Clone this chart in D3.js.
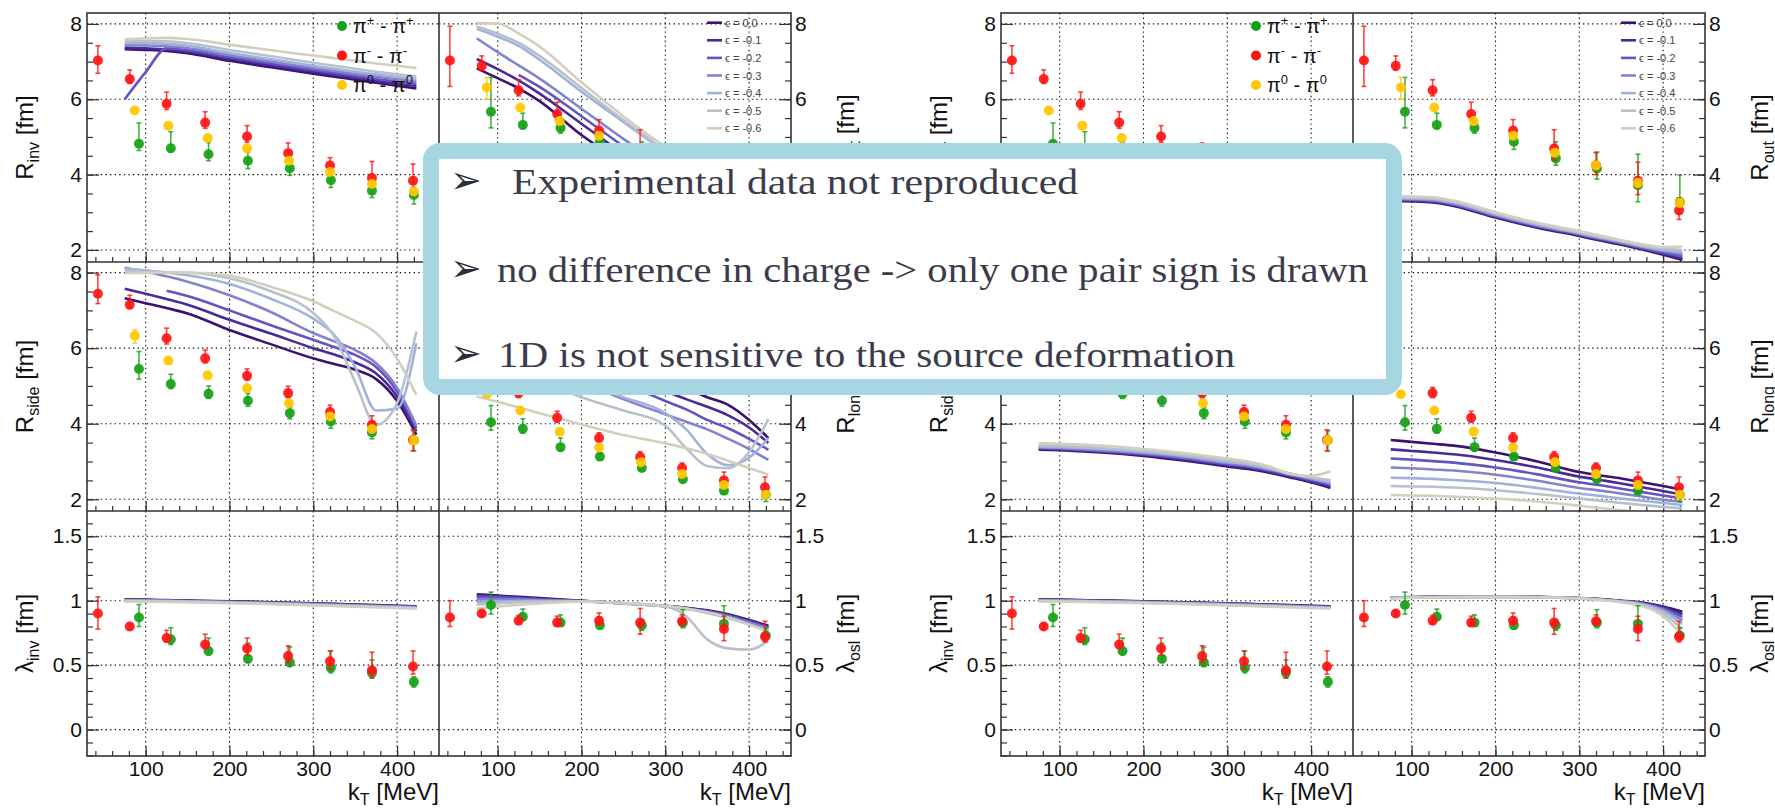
<!DOCTYPE html>
<html>
<head>
<meta charset="utf-8">
<title>HBT radii vs kT</title>
<script src="https://d3js.org/d3.v7.min.js"></script>
<style>
  body { margin: 0; background: #fff; }
  svg text { font-family: "Liberation Sans", Arial, sans-serif; fill: #111; }
  .tick text { font-size: 21px; }
  .tick line { stroke: #333; stroke-width: 1.2; }
</style>
</head>
<body>
<script>
// ---- kT positions of the measured points (MeV)
var ktRed    = [43, 81, 125, 171, 221, 270, 320, 370, 419];
var ktGreen  = [92, 130, 175, 222, 272, 321, 370, 420];
var ktYellow = [87, 127, 174, 221, 271, 320, 370, 420];
// kT grid of the model curves
var ktModel  = [75, 100, 125, 150, 200, 250, 300, 325, 350, 375, 400, 423];

var epsLabels = ["0.0", "-0.1", "-0.2", "-0.3", "-0.4", "-0.5", "-0.6"];
var epsColors = ["#3b1270", "#4a2a98", "#6453c0", "#8283cd", "#a2b1dc", "#b5c2cc", "#d3cfbe"];
var pionLabels = [["+", "+"], ["-", "-"], ["0", "0"]];
var pionColors = ["#16a016", "#ff1414", "#ffc800"];

// ---- measured values, errors as [low, high]
var rinvRed = [7.03, 6.54, 5.88, 5.38, 5.01, 4.57, 4.24, 3.91, 3.84];
var rinvRedErr = [[0.34,0.39],[0.12,0.24],[0.15,0.31],[0.15,0.29],[0.15,0.29],[0.15,0.27],[0.15,0.21],[0.15,0.44],[0.2,0.44]];
var rinvGreen = [4.82, 4.70, 4.54, 4.37, 4.17, 3.85, 3.57, 3.46];
var rinvGreenErr = [[0.18,0.55],[0.1,0.44],[0.17,0.31],[0.21,0.23],[0.19,0.2],[0.19,0.2],[0.18,0.2],[0.24,0.2]];
var rinvYellow = [5.70, 5.30, 4.97, 4.70, 4.37, 4.07, 3.75, 3.55];
var rinvYellowErr = [[0.06,0.06],[0.06,0.06],[0.06,0.06],[0.06,0.06],[0.06,0.06],[0.06,0.06],[0.06,0.06],[0.06,0.06]];

var routRed = [7.03, 6.89, 6.24, 5.61, 5.17, 4.69, 4.25, 3.84, 3.05];
var routRedErr = [[0.69,0.91],[0.12,0.26],[0.15,0.28],[0.15,0.31],[0.15,0.29],[0.3,0.5],[0.25,0.33],[0.37,0.49],[0.24,0.33]];
var routGreen = [5.67, 5.32, 5.24, 4.87, 4.43, 4.16, 3.72, 3.27];
var routGreenErr = [[0.43,0.91],[0.1,0.31],[0.14,0.15],[0.2,0.2],[0.18,0.44],[0.28,0.44],[0.44,0.82],[0.3,0.72]];
var routYellow = [6.31, 5.78, 5.42, 5.03, 4.58, 4.24, 3.78, 3.25];
var routYellowErr = [[0.31,0.27],[0.08,0.08],[0.08,0.08],[0.08,0.08],[0.08,0.08],[0.1,0.1],[0.1,0.1],[0.1,0.1]];

var rsideRed = [7.44, 7.15, 6.26, 5.73, 5.27, 4.81, 4.31, 3.97, 3.57];
var rsideRedErr = [[0.26,0.5],[0.1,0.25],[0.15,0.27],[0.12,0.22],[0.12,0.18],[0.12,0.18],[0.12,0.18],[0.2,0.24],[0.29,0.27]];
var rsideGreen = [5.45, 5.05, 4.79, 4.61, 4.28, 4.06, 3.77, 3.56];
var rsideGreenErr = [[0.27,0.46],[0.12,0.26],[0.12,0.21],[0.15,0.19],[0.15,0.15],[0.18,0.15],[0.17,0.15],[0.28,0.25]];
var rsideYellow = [6.33, 5.67, 5.28, 4.94, 4.54, 4.19, 3.86, 3.56];
var rsideYellowErr = [[0.2,0.16],[0.06,0.06],[0.06,0.06],[0.06,0.06],[0.06,0.06],[0.06,0.06],[0.08,0.08],[0.1,0.1]];

var rlongRed = [6.3, 5.6, 4.81, 4.16, 3.62, 3.12, 2.83, 2.5, 2.32];
var rlongRedErr = [[0.5,0.6],[0.2,0.2],[0.12,0.15],[0.12,0.17],[0.1,0.14],[0.1,0.14],[0.1,0.13],[0.12,0.22],[0.15,0.27]];
var rlongGreen = [4.04, 3.87, 3.38, 3.13, 2.83, 2.53, 2.23, 2.12];
var rlongGreenErr = [[0.21,0.44],[0.12,0.26],[0.1,0.24],[0.08,0.08],[0.08,0.08],[0.08,0.08],[0.1,0.08],[0.18,0.12]];
var rlongYellow = [4.78, 4.35, 3.79, 3.37, 2.98, 2.67, 2.38, 2.12];
var rlongYellowErr = [[0.06,0.06],[0.06,0.06],[0.06,0.06],[0.06,0.06],[0.06,0.06],[0.06,0.06],[0.06,0.06],[0.06,0.06]];

var laminvRed = [0.90, 0.80, 0.71, 0.66, 0.63, 0.57, 0.53, 0.46, 0.49];
var laminvRedErr = [[0.12,0.13],[0.02,0.02],[0.03,0.06],[0.03,0.08],[0.05,0.08],[0.05,0.08],[0.06,0.08],[0.06,0.14],[0.06,0.12]];
var laminvGreen = [0.87, 0.70, 0.61, 0.55, 0.52, 0.48, 0.44, 0.37];
var laminvGreenErr = [[0.07,0.1],[0.04,0.09],[0.03,0.1],[0.03,0.12],[0.03,0.12],[0.04,0.13],[0.04,0.1],[0.04,0.04]];

var lamoslRed = [0.87, 0.90, 0.845, 0.83, 0.845, 0.83, 0.84, 0.78, 0.72];
var lamoslRedErr = [[0.07,0.13],[0.02,0.02],[0.02,0.04],[0.02,0.05],[0.03,0.06],[0.09,0.11],[0.03,0.05],[0.09,0.1],[0.04,0.12]];
var lamoslGreen = [0.967, 0.875, 0.83, 0.81, 0.81, 0.83, 0.82, 0.73];
var lamoslGreenErr = [[0.07,0.1],[0.02,0.06],[0.02,0.06],[0.03,0.06],[0.04,0.04],[0.04,0.1],[0.05,0.14],[0.03,0.06]];

// ---- model curves, one row per epsilon (0.0 ... -0.6), on ktModel
var rinvModel = [
  [7.33, 7.31, 7.28, 7.22, 7.02, 6.85, 6.68, 6.6, 6.52, 6.44, 6.36, 6.29],
  [7.37, 7.35, 7.32, 7.26, 7.07, 6.9, 6.73, 6.65, 6.57, 6.49, 6.41, 6.35],
  [6.0, 6.72, 7.35, 7.3, 7.12, 6.95, 6.78, 6.7, 6.62, 6.54, 6.47, 6.41],
  [7.44, 7.43, 7.41, 7.36, 7.17, 7.0, 6.83, 6.75, 6.67, 6.6, 6.53, 6.47],
  [7.49, 7.49, 7.47, 7.42, 7.23, 7.06, 6.89, 6.81, 6.73, 6.66, 6.59, 6.53],
  [7.54, 7.55, 7.54, 7.49, 7.31, 7.14, 6.97, 6.89, 6.81, 6.73, 6.66, 6.6],
  [7.59, 7.62, 7.63, 7.6, 7.45, 7.3, 7.16, 7.09, 7.02, 6.95, 6.89, 6.83]
];
var routModelA = [
  [6.82, 6.56, 6.29, 5.95, 5.05, 4.3, 3.6, 3.3, 3.0, 2.72, 2.46, 2.2],
  [7.07, 6.8, 6.5, 6.15, 5.35, 4.55, 3.8, 3.47, 3.15, 2.86, 2.58, 2.32],
  [null, null, 6.65, 6.33, 5.55, 4.75, 3.98, 3.63, 3.3, 3.0, 2.72, 2.45],
  [7.62, 7.25, 6.9, 6.55, 5.75, 4.95, 4.2, 3.85, 3.5, 3.18, 2.88, 2.6],
  [7.87, 7.66, 7.42, 7.05, 6.2, 5.4, 4.6, 4.22, 3.85, 3.5, 3.17, 2.86],
  [7.93, 7.74, 7.5, 7.15, 6.3, 5.45, 4.65, 4.3, 3.95, 3.62, 3.3, 3.0],
  [8.02, 8.01, 7.75, 7.4, 6.45, 5.55, 4.75, 4.45, 4.12, 3.8, 3.5, 3.2]
];
var rsideModelA = [
  [7.32, 7.19, 7.06, 6.92, 6.48, 6.1, 5.73, 5.58, 5.43, 5.18, 4.6, 3.71],
  [7.57, 7.44, 7.3, 7.15, 6.75, 6.38, 6.0, 5.83, 5.62, 5.33, 4.72, 3.8],
  [null, null, 7.52, 7.38, 7.0, 6.6, 6.22, 6.03, 5.82, 5.5, 4.85, 3.88],
  [8.13, 8.02, 7.9, 7.76, 7.4, 6.95, 6.4, 6.18, 5.95, 5.6, 4.95, 3.95],
  [8.1, 8.06, 8.0, 7.93, 7.7, 7.3, 6.78, 6.35, 5.5, 4.35, 4.4, 6.13],
  [8.05, 8.03, 8.01, 8.0, 7.85, 7.5, 6.93, 6.31, 5.1, 3.97, 4.55, 6.44],
  [7.99, 7.99, 8.0, 8.0, 7.92, 7.62, 7.24, 6.98, 6.72, 6.4, 5.72, 4.76]
];
var rlongModelA = [
  [8.4, 8.0, 7.6, 7.2, 6.5, 5.85, 5.2, 4.95, 4.7, 4.5, 4.1, 3.62],
  [8.0, 7.6, 7.2, 6.8, 6.1, 5.5, 4.87, 4.65, 4.45, 4.22, 3.9, 3.49],
  [7.6, 7.2, 6.8, 6.4, 5.7, 5.1, 4.6, 4.38, 4.1, 3.88, 3.6, 3.31],
  [7.2, 6.8, 6.4, 6.0, 5.15, 4.65, 4.25, 4.05, 3.85, 3.6, 3.33, 3.04],
  [6.4, 6.1, 5.8, 5.55, 5.1, 4.7, 4.28, 3.85, 3.2, 2.9, 3.1, 3.62],
  [6.0, 5.7, 5.4, 5.15, 4.7, 4.35, 3.95, 3.35, 2.88, 2.82, 3.25, 4.12],
  [4.72, 4.58, 4.43, 4.28, 3.98, 3.7, 3.48, 3.35, 3.2, 3.02, 2.83, 2.65]
];
var laminvModel = [
  [1.01, 1.008, 1.005, 1.002, 0.995, 0.988, 0.98, 0.976, 0.971, 0.966, 0.961, 0.956],
  [1.008, 1.006, 1.003, 1.0, 0.993, 0.986, 0.978, 0.974, 0.969, 0.964, 0.959, 0.954],
  [1.006, 1.004, 1.001, 0.998, 0.991, 0.984, 0.976, 0.971, 0.966, 0.961, 0.956, 0.951],
  [1.004, 1.002, 0.999, 0.996, 0.989, 0.982, 0.973, 0.968, 0.963, 0.958, 0.953, 0.948],
  [1.001, 0.999, 0.997, 0.994, 0.987, 0.979, 0.97, 0.965, 0.96, 0.955, 0.95, 0.945],
  [0.998, 0.996, 0.994, 0.991, 0.984, 0.976, 0.967, 0.962, 0.957, 0.952, 0.946, 0.942],
  [0.995, 0.993, 0.991, 0.988, 0.981, 0.973, 0.964, 0.959, 0.954, 0.949, 0.944, 0.939]
];
var lamoslModelA = [
  [1.05, 1.04, 1.03, 1.02, 1.0, 0.98, 0.96, 0.945, 0.925, 0.895, 0.85, 0.805],
  [1.04, 1.034, 1.025, 1.015, 0.999, 0.98, 0.959, 0.943, 0.921, 0.89, 0.844, 0.798],
  [1.03, 1.026, 1.019, 1.01, 0.998, 0.979, 0.958, 0.941, 0.917, 0.884, 0.838, 0.79],
  [1.01, 1.01, 1.008, 1.004, 0.996, 0.979, 0.956, 0.938, 0.913, 0.878, 0.83, 0.782],
  [0.99, 0.994, 0.997, 0.998, 0.995, 0.978, 0.955, 0.935, 0.905, 0.865, 0.815, 0.772],
  [0.97, 0.98, 0.988, 0.993, 0.995, 0.978, 0.955, 0.88, 0.7, 0.63, 0.62, 0.69],
  [0.94, 0.955, 0.968, 0.978, 0.992, 0.984, 0.96, 0.94, 0.91, 0.87, 0.815, 0.76]
];
var routModelB = [
  [3.3, 3.29, 3.26, 3.17, 2.86, 2.59, 2.37, 2.25, 2.14, 2.01, 1.87, 1.74],
  [3.32, 3.31, 3.28, 3.19, 2.88, 2.61, 2.39, 2.27, 2.16, 2.03, 1.9, 1.78],
  [3.34, 3.33, 3.3, 3.21, 2.9, 2.63, 2.41, 2.29, 2.18, 2.05, 1.93, 1.83],
  [3.36, 3.35, 3.32, 3.23, 2.92, 2.65, 2.43, 2.31, 2.2, 2.08, 1.97, 1.88],
  [3.38, 3.37, 3.35, 3.26, 2.95, 2.67, 2.45, 2.33, 2.22, 2.1, 2.0, 1.94],
  [3.4, 3.39, 3.37, 3.28, 2.97, 2.7, 2.47, 2.35, 2.24, 2.12, 2.04, 2.0],
  [3.43, 3.42, 3.4, 3.31, 3.0, 2.72, 2.5, 2.38, 2.26, 2.15, 2.08, 2.09]
];
var rsideModelB = [
  [3.31, 3.3, 3.27, 3.24, 3.15, 3.02, 2.87, 2.8, 2.7, 2.58, 2.45, 2.3],
  [3.33, 3.32, 3.29, 3.26, 3.17, 3.05, 2.9, 2.83, 2.73, 2.61, 2.48, 2.34],
  [3.35, 3.34, 3.31, 3.28, 3.2, 3.08, 2.93, 2.86, 2.76, 2.63, 2.51, 2.38],
  [3.37, 3.36, 3.33, 3.3, 3.22, 3.11, 2.96, 2.89, 2.79, 2.66, 2.54, 2.42],
  [3.39, 3.38, 3.36, 3.33, 3.25, 3.14, 2.99, 2.92, 2.81, 2.68, 2.56, 2.45],
  [3.42, 3.41, 3.39, 3.36, 3.28, 3.17, 3.03, 2.95, 2.83, 2.68, 2.58, 2.5],
  [3.48, 3.47, 3.45, 3.42, 3.33, 3.22, 3.08, 3.0, 2.87, 2.67, 2.62, 2.74]
];
var rlongModelB = [
  [3.57, 3.52, 3.47, 3.42, 3.24, 3.0, 2.72, 2.63, 2.55, 2.45, 2.35, 2.25],
  [3.32, 3.28, 3.24, 3.19, 3.04, 2.84, 2.6, 2.51, 2.42, 2.32, 2.22, 2.12],
  [3.08, 3.05, 3.01, 2.97, 2.84, 2.66, 2.45, 2.37, 2.28, 2.19, 2.1, 2.02],
  [2.84, 2.82, 2.79, 2.76, 2.65, 2.49, 2.3, 2.23, 2.15, 2.07, 1.99, 1.93],
  [2.57, 2.56, 2.54, 2.51, 2.43, 2.3, 2.15, 2.09, 2.02, 1.96, 1.9, 1.85],
  [2.35, 2.34, 2.33, 2.31, 2.24, 2.14, 2.02, 1.96, 1.9, 1.85, 1.8, 1.76],
  [2.11, 2.1, 2.09, 2.07, 2.02, 1.94, 1.83, 1.77, 1.71, 1.66, 1.61, 1.57]
];
var lamoslModelB = [
  [1.025, 1.028, 1.03, 1.031, 1.032, 1.03, 1.02, 1.012, 1.0, 0.985, 0.955, 0.915],
  [1.024, 1.027, 1.029, 1.03, 1.031, 1.029, 1.019, 1.011, 0.999, 0.982, 0.948, 0.895],
  [1.023, 1.026, 1.028, 1.03, 1.031, 1.029, 1.019, 1.01, 0.998, 0.979, 0.94, 0.875],
  [1.022, 1.025, 1.027, 1.029, 1.03, 1.028, 1.018, 1.009, 0.996, 0.976, 0.93, 0.85],
  [1.021, 1.024, 1.027, 1.029, 1.03, 1.028, 1.018, 1.008, 0.994, 0.972, 0.918, 0.82],
  [1.02, 1.023, 1.026, 1.028, 1.03, 1.027, 1.017, 1.007, 0.991, 0.966, 0.9, 0.78],
  [1.02, 1.023, 1.026, 1.028, 1.029, 1.027, 1.017, 1.006, 0.988, 0.958, 0.88, 0.73]
];

var notes = ["Experimental data not reproduced",
             "no difference in charge -> only one pair sign is drawn",
             "1D is not sensitive to the source deformation"];

// ---- layout
var W = 1775, H = 809;
var groupX = [0, 914], colX = [87, 439], colW = 352;
var rowY = [13, 262, 511], rowH = [249, 249, 245];
var yDomains = [[1.68, 8.29], [1.69, 8.28], [-0.205, 1.696]];
var yMajor = [[2, 4, 6, 8], [2, 4, 6, 8], [0, 0.5, 1, 1.5]];
var yMinor = [d3.range(2, 8.01, 0.5), d3.range(2, 8.01, 0.5), d3.range(-0.2, 1.65, 0.1)];
var xMajor = [100, 200, 300, 400], xMinor = d3.range(40, 441, 20);

var svg = d3.select("body").append("svg").attr("width", W).attr("height", H);
var defs = svg.append("defs");

function panelsFor(grp) {
  var B = grp === 1;
  return [
    {grp: grp, col: 0, row: 0, title: ["R", "inv"], red: rinvRed, redErr: rinvRedErr, green: rinvGreen, greenErr: rinvGreenErr, yellow: rinvYellow, yellowErr: rinvYellowErr, model: B ? null : rinvModel, pion: true},
    {grp: grp, col: 1, row: 0, title: ["R", "out"], red: routRed, redErr: routRedErr, green: routGreen, greenErr: routGreenErr, yellow: routYellow, yellowErr: routYellowErr, model: B ? routModelB : routModelA, eps: true},
    {grp: grp, col: 0, row: 1, title: ["R", "side"], red: rsideRed, redErr: rsideRedErr, green: rsideGreen, greenErr: rsideGreenErr, yellow: rsideYellow, yellowErr: rsideYellowErr, model: B ? rsideModelB : rsideModelA},
    {grp: grp, col: 1, row: 1, title: ["R", "long"], red: rlongRed, redErr: rlongRedErr, green: rlongGreen, greenErr: rlongGreenErr, yellow: rlongYellow, yellowErr: rlongYellowErr, model: B ? rlongModelB : rlongModelA},
    {grp: grp, col: 0, row: 2, title: ["\u03bb", "inv"], red: laminvRed, redErr: laminvRedErr, green: laminvGreen, greenErr: laminvGreenErr, model: laminvModel},
    {grp: grp, col: 1, row: 2, title: ["\u03bb", "osl"], red: lamoslRed, redErr: lamoslRedErr, green: lamoslGreen, greenErr: lamoslGreenErr, model: B ? lamoslModelB : lamoslModelA}
  ];
}

var clipN = 0;
function drawSeries(g, x, y, kts, vals, errs, color) {
  var pts = vals.map(function(v, i) { return {k: kts[i], v: v, lo: errs[i][0], hi: errs[i][1]}; });
  var eb = g.append("g").attr("stroke", color).attr("stroke-width", 1.6).attr("stroke-opacity", 0.8);
  eb.selectAll(null).data(pts).enter().append("line")
    .attr("x1", function(d) { return x(d.k); }).attr("x2", function(d) { return x(d.k); })
    .attr("y1", function(d) { return y(d.v - d.lo); }).attr("y2", function(d) { return y(d.v + d.hi); });
  ["lo", "hi"].forEach(function(s) {
    eb.selectAll(null).data(pts).enter().append("line")
      .attr("x1", function(d) { return x(d.k) - 2.5; }).attr("x2", function(d) { return x(d.k) + 2.5; })
      .attr("y1", function(d) { return y(s === "lo" ? d.v - d.lo : d.v + d.hi); })
      .attr("y2", function(d) { return y(s === "lo" ? d.v - d.lo : d.v + d.hi); });
  });
  g.selectAll(null).data(pts).enter().append("circle")
    .attr("cx", function(d) { return x(d.k); }).attr("cy", function(d) { return y(d.v); })
    .attr("r", 5).attr("fill", color).attr("fill-opacity", 0.92);
}

function drawPanel(p) {
  var x0 = groupX[p.grp] + colX[p.col], y0 = rowY[p.row], h = rowH[p.row];
  var x = d3.scaleLinear().domain([30, 450]).range([x0, x0 + colW]);
  var y = d3.scaleLinear().domain(yDomains[p.row]).range([y0 + h, y0]);
  var id = "clip" + (clipN++);
  defs.append("clipPath").attr("id", id).append("rect")
    .attr("x", x0).attr("y", y0).attr("width", colW).attr("height", h);

  var g = svg.append("g");
  // dotted grid
  var grid = g.append("g").attr("stroke", "#111").attr("stroke-width", 1.1).attr("stroke-dasharray", "1.4 3.2");
  grid.selectAll(null).data(xMajor).enter().append("line")
    .attr("x1", function(d) { return x(d); }).attr("x2", function(d) { return x(d); })
    .attr("y1", y0).attr("y2", y0 + h);
  grid.selectAll(null).data(yMajor[p.row]).enter().append("line")
    .attr("x1", x0).attr("x2", x0 + colW)
    .attr("y1", function(d) { return y(d); }).attr("y2", function(d) { return y(d); });

  // axes (ticks drawn inwards, ROOT style)
  var bottom = p.row === 2;
  g.append("g").attr("transform", "translate(0," + (y0 + h) + ")")
    .call(d3.axisBottom(x).tickValues(xMajor).tickSize(-10).tickPadding(5)
      .tickFormat(bottom ? d3.format("d") : ""))
    .call(function(a) { a.select(".domain").remove(); a.selectAll("text").attr("font-size", "21px"); });
  g.append("g").attr("transform", "translate(0," + (y0 + h) + ")")
    .call(d3.axisBottom(x).tickValues(xMinor).tickSize(-5).tickFormat(""))
    .call(function(a) { a.select(".domain").remove(); });

  var yfmt = function(d) { return d3.format("~g")(d); };
  if (p.col === 0) {
    g.append("g").attr("transform", "translate(" + x0 + ",0)")
      .call(d3.axisLeft(y).tickValues(yMajor[p.row]).tickSize(-12).tickPadding(5).tickFormat(yfmt))
      .call(function(a) { a.select(".domain").remove(); });
    g.append("g").attr("transform", "translate(" + x0 + ",0)")
      .call(d3.axisLeft(y).tickValues(yMinor[p.row]).tickSize(-6).tickFormat(""))
      .call(function(a) { a.select(".domain").remove(); });
  } else {
    g.append("g").attr("transform", "translate(" + (x0 + colW) + ",0)")
      .call(d3.axisRight(y).tickValues(yMajor[p.row]).tickSize(-12).tickPadding(4).tickFormat(yfmt))
      .call(function(a) { a.select(".domain").remove(); });
    g.append("g").attr("transform", "translate(" + (x0 + colW) + ",0)")
      .call(d3.axisRight(y).tickValues(yMinor[p.row]).tickSize(-6).tickFormat(""))
      .call(function(a) { a.select(".domain").remove(); });
  }

  // y title
  var tx = p.col === 0 ? x0 - 62 : x0 + colW + 55, ty = y0 + h / 2;
  var t = g.append("text").attr("transform", "translate(" + tx + "," + ty + ") rotate(-90)")
    .attr("text-anchor", "middle").attr("dy", "0.35em").attr("font-size", "24px");
  t.append("tspan").text(p.title[0]);
  t.append("tspan").attr("font-size", "16px").attr("dy", 6).text(p.title[1]);
  t.append("tspan").attr("dy", -6).text(" [fm]");

  if (bottom) {
    var kt = g.append("text").attr("x", x0 + colW).attr("y", 800)
      .attr("text-anchor", "end").attr("font-size", "24px");
    kt.append("tspan").text("k");
    kt.append("tspan").attr("font-size", "16px").attr("dy", 5).text("T");
    kt.append("tspan").attr("dy", -5).text(" [MeV]");
  }

  var inner = g.append("g").attr("clip-path", "url(#" + id + ")");
  // model curves
  if (p.model) {
    var line = d3.line()
      .defined(function(d) { return d[1] != null; })
      .x(function(d) { return x(d[0]); }).y(function(d) { return y(d[1]); })
      .curve(d3.curveMonotoneX);
    p.model.forEach(function(vals, i) {
      inner.append("path").datum(ktModel.map(function(k, j) { return [k, vals[j]]; }))
        .attr("d", line).attr("fill", "none")
        .attr("stroke", epsColors[i]).attr("stroke-width", 2.6);
    });
  }
  // data points
  drawSeries(inner, x, y, ktGreen, p.green, p.greenErr, pionColors[0]);
  drawSeries(inner, x, y, ktRed, p.red, p.redErr, pionColors[1]);
  if (p.yellow) drawSeries(inner, x, y, ktYellow, p.yellow, p.yellowErr, pionColors[2]);

  // legends
  if (p.pion) {
    pionLabels.forEach(function(lb, i) {
      var yy = y0 + 13 + i * 29.5;
      g.append("circle").attr("cx", x0 + 255).attr("cy", yy).attr("r", 5).attr("fill", pionColors[i]);
      var lt = g.append("text").attr("x", x0 + 266).attr("y", yy + 7).attr("font-size", "20px");
      lt.append("tspan").text("\u03c0");
      lt.append("tspan").attr("font-size", "13px").attr("dy", -8).text(lb[0]);
      lt.append("tspan").attr("dy", 8).text(" - \u03c0");
      lt.append("tspan").attr("font-size", "13px").attr("dy", -8).text(lb[1]);
    });
  }
  if (p.eps) {
    epsLabels.forEach(function(lb, i) {
      var yy = y0 + 9.7 + i * 17.6;
      g.append("line").attr("x1", x0 + 268).attr("x2", x0 + 283).attr("y1", yy).attr("y2", yy)
        .attr("stroke", epsColors[i]).attr("stroke-width", 2.6);
      g.append("text").attr("x", x0 + 286).attr("y", yy + 4).attr("font-size", "11px")
        .style("fill", "#444").text("\u03f5 = " + lb);
    });
  }
}

[0, 1].forEach(function(grp) {
  panelsFor(grp).forEach(drawPanel);
  // frame
  var gx = groupX[grp];
  var fr = svg.append("g").attr("stroke", "#333").attr("stroke-width", 1.6).attr("fill", "none");
  fr.append("rect").attr("x", gx + colX[0]).attr("y", rowY[0])
    .attr("width", 2 * colW).attr("height", rowY[2] + rowH[2] - rowY[0]);
  fr.append("line").attr("x1", gx + colX[1]).attr("x2", gx + colX[1])
    .attr("y1", rowY[0]).attr("y2", rowY[2] + rowH[2]);
  [rowY[1], rowY[2]].forEach(function(yy) {
    fr.append("line").attr("x1", gx + colX[0]).attr("x2", gx + colX[0] + 2 * colW)
      .attr("y1", yy).attr("y2", yy);
  });
});

// ---- overlay note box
var box = svg.append("g");
box.append("rect").attr("x", 431).attr("y", 151).attr("width", 963).attr("height", 236)
  .attr("rx", 9).attr("fill", "#fff").attr("stroke", "#a7d6e3").attr("stroke-width", 16);
var noteX = [512, 497, 498], noteY = [194, 282, 367], noteW = [566, 871, 737];
notes.forEach(function(s, i) {
  box.append("text").attr("x", 450).attr("y", noteY[i] - 1)
    .style("font-family", "'DejaVu Sans', sans-serif").attr("font-size", "38px")
    .style("fill", "#2c2c3a").text("\u27a2");
  box.append("text").attr("x", noteX[i]).attr("y", noteY[i])
    .style("font-family", "'Liberation Serif', serif").attr("font-size", "36px")
    .style("fill", "#3b3b4b")
    .attr("textLength", noteW[i]).attr("lengthAdjust", "spacingAndGlyphs")
    .text(s);
});
</script>
</body>
</html>
